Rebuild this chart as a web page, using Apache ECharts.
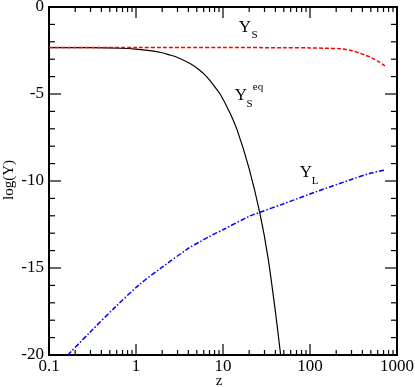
<!DOCTYPE html>
<html>
<head>
<meta charset="utf-8">
<script src="https://cdn.jsdelivr.net/npm/echarts@6/dist/echarts.min.js"></script>
<style>
  html, body { margin: 0; padding: 0; background: #fff; }
  #chart { width: 415px; height: 387px; }
</style>
</head>
<body>
<div id="chart"></div>
<script>
// Y_S (red dashed)
const zS = [0.1, 1, 10, 50, 100, 150, 221, 300, 376, 450, 525, 620, 728];
const yS = [-2.33, -2.33, -2.33, -2.34, -2.35, -2.37, -2.40, -2.5, -2.66, -2.8, -2.95, -3.15, -3.39];

// Y_S^eq (black solid)
const zEq = [0.1, 0.3, 0.65, 1, 1.45, 2, 2.46, 3, 4.18, 5.4, 6.48, 8, 9.25, 11.8, 14.5, 20, 26.6, 32.9, 40, 46];
const yEq = [-2.33, -2.34, -2.37, -2.42, -2.51, -2.63, -2.76, -2.9, -3.25, -3.63, -4.0, -4.57, -5.0, -6.0, -7.05, -9.3, -11.88, -14.4, -17.5, -20];

// Y_L (blue dash-dot)
const zL = [0.165, 0.288, 0.585, 1.08, 2.0, 4.06, 5.45, 6.9, 10, 20.4, 26.6, 49, 119, 288, 490, 728];
const yL = [-20, -18.75, -17.22, -15.98, -14.95, -13.85, -13.49, -13.2, -12.8, -12.01, -11.8, -11.32, -10.61, -9.94, -9.56, -9.37];

const xTickLabels = ["0.1", "1", "10", "100", "1000"];
const yTicks = [-20, -15, -10, -5, 0];

const font = "Liberation Serif";

// tick marks pointing into the plot: [x, y, dx px, dy px]
const tickMarks = [];
for (let d = -1; d <= 3; d++) {
  const ks = d < 3 ? [1, 2, 3, 4, 5, 6, 7, 8, 9] : [1];
  ks.forEach((k) => {
    const z = k * Math.pow(10, d);
    const len = k === 1 ? 11 : 5;
    tickMarks.push([z, -20, 0, -len]);
    tickMarks.push([z, 0, 0, len]);
  });
}
for (let v = -20; v <= 0; v++) {
  const len = v % 5 === 0 ? 12 : 6;
  tickMarks.push([0.1, v, len, 0]);
  tickMarks.push([1000, v, -len, 0]);
}

const pairs = function (xs, ys) {
  return xs.map((x, i) => [x, ys[i]]);
};

const chart = echarts.init(document.getElementById("chart"));

const labels = [
  { type: "text", x: 245, y: 27.5, style: { text: "Y", font: "17px " + font, fill: "#000", align: "center", verticalAlign: "middle" } },
  { type: "text", x: 254.5, y: 35, style: { text: "S", font: "11px " + font, fill: "#000", align: "center", verticalAlign: "middle" } },
  { type: "text", x: 241, y: 96, style: { text: "Y", font: "17px " + font, fill: "#000", align: "center", verticalAlign: "middle" } },
  { type: "text", x: 249.5, y: 104, style: { text: "S", font: "11px " + font, fill: "#000", align: "center", verticalAlign: "middle" } },
  { type: "text", x: 258, y: 87.5, style: { text: "eq", font: "11px " + font, fill: "#000", align: "center", verticalAlign: "middle" } },
  { type: "text", x: 306, y: 172.5, style: { text: "Y", font: "17px " + font, fill: "#000", align: "center", verticalAlign: "middle" } },
  { type: "text", x: 315, y: 181.5, style: { text: "L", font: "11px " + font, fill: "#000", align: "center", verticalAlign: "middle" } },
  // axis titles
  { type: "text", x: 219, y: 381, style: { text: "z", font: "15px " + font, fill: "#000", align: "center", verticalAlign: "middle" } },
  { type: "text", x: 9, y: 180, rotation: Math.PI / 2, style: { text: "log(Y)", font: "15px " + font, fill: "#000", align: "center", verticalAlign: "middle" } }
];

const option = {
  animation: false,
  backgroundColor: "#fff",
  grid: {
    left: 49,
    right: 18,
    top: 7,
    bottom: 32,
    containLabel: false,
    outerBoundsMode: "none",
    show: true,
    borderColor: "#000",
    borderWidth: 2
  },
  xAxis: {
    type: "log",
    logBase: 10,
    min: 0.1,
    max: 1000,
    position: "bottom",
    axisLine: { show: false, onZero: false },
    axisTick: { show: false },
    axisLabel: {
      fontFamily: font,
      fontSize: 17,
      color: "#000",
      margin: 3,
      formatter: (v) => {
        const i = Math.round(Math.log10(v)) + 1;
        return xTickLabels[i] || "";
      }
    },
    splitLine: { show: false }
  },
  yAxis: {
    type: "value",
    min: -20,
    max: 0,
    interval: 5,
    position: "left",
    axisLine: { show: false, onZero: false },
    axisTick: { show: false },
    axisLabel: {
      fontFamily: font,
      fontSize: 17,
      color: "#000",
      margin: 5,
      formatter: (v) => (yTicks.indexOf(v) >= 0 ? String(v) : "")
    },
    splitLine: { show: false }
  },
  series: [
    {
      name: "Y_S",
      type: "line",
      data: pairs(zS, yS),
      showSymbol: false,
      smooth: 0.3,
      lineStyle: { color: "#ff0000", width: 1.5, type: [4, 2] },
      z: 3
    },
    {
      name: "Y_S^eq",
      type: "line",
      data: pairs(zEq, yEq),
      showSymbol: false,
      smooth: 0.3,
      lineStyle: { color: "#000", width: 1.2, type: "solid" },
      z: 2
    },
    {
      name: "Y_L",
      type: "line",
      data: pairs(zL, yL),
      showSymbol: false,
      smooth: 0.3,
      lineStyle: { color: "#0000ff", width: 1.5, type: [5, 2, 1.5, 2] },
      z: 2
    }
  ],
  graphic: labels
};

chart.setOption(option);

// ticks placed through the chart's own scales
const tickLines = tickMarks.map((t) => {
  const p = chart.convertToPixel({ gridIndex: 0 }, [t[0], t[1]]);
  return {
    type: "line",
    silent: true,
    z: 100,
    shape: { x1: p[0], y1: p[1], x2: p[0] + t[2], y2: p[1] + t[3] },
    style: { stroke: "#000", lineWidth: 1.2 }
  };
});
chart.setOption({ graphic: labels.concat(tickLines) });
</script>
</body>
</html>
